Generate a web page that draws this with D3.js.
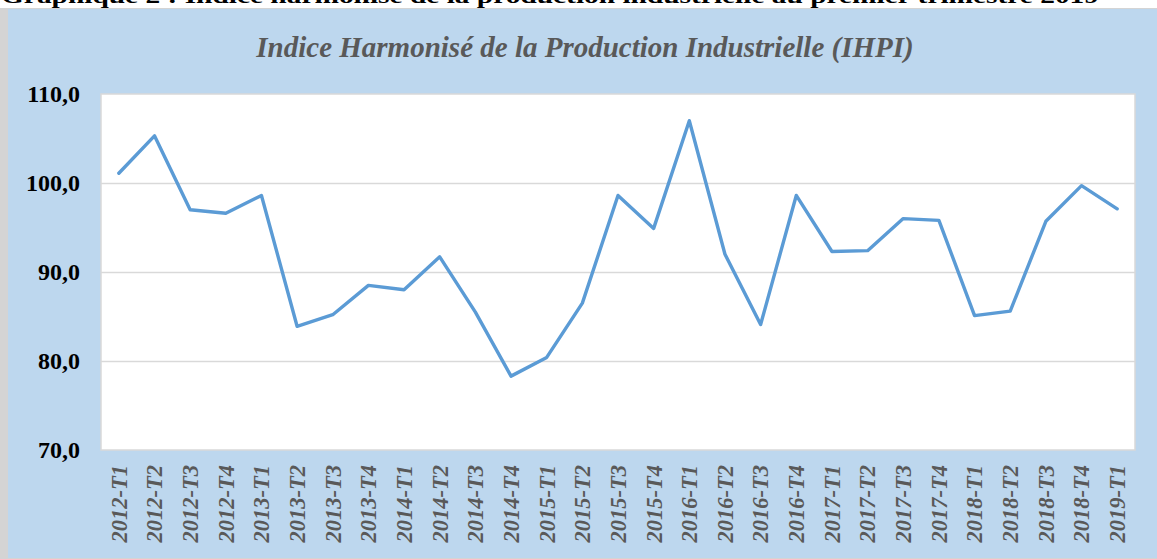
<!DOCTYPE html>
<html>
<head>
<meta charset="utf-8">
<script src="https://cdn.jsdelivr.net/npm/d3@7"></script>
<style>
  body { margin: 0; background: #fff; }
  svg { display: block; }
</style>
</head>
<body>
<div id="chart"></div>
<script>
var width = 1157;
var height = 559;

// quarters on the x axis
var categories = [
  "2012-T1", "2012-T2", "2012-T3", "2012-T4",
  "2013-T1", "2013-T2", "2013-T3", "2013-T4",
  "2014-T1", "2014-T2", "2014-T3", "2014-T4",
  "2015-T1", "2015-T2", "2015-T3", "2015-T4",
  "2016-T1", "2016-T2", "2016-T3", "2016-T4",
  "2017-T1", "2017-T2", "2017-T3", "2017-T4",
  "2018-T1", "2018-T2", "2018-T3", "2018-T4",
  "2019-T1"
];

// IHPI values
var values = [
  101.1, 105.3, 97.0, 96.6,
  98.6, 83.9, 85.2, 88.5,
  88.0, 91.7, 85.5, 78.3,
  80.4, 86.5, 98.6, 94.9,
  107.0, 92.0, 84.1, 98.6,
  92.3, 92.4, 96.0, 95.8,
  85.1, 85.6, 95.7, 99.7,
  97.1
];

var yTicks = [70, 80, 90, 100, 110];

var pageTitle = "Graphique 2 : Indice harmonisé de la production industrielle au premier trimestre 2019";
var chartTitle = "Indice Harmonisé de la Production Industrielle (IHPI)";

var plot = {left: 101, right: 1135, top: 94, bottom: 450};
var serif = '"Liberation Serif", "Times New Roman", serif';

var svg = d3.select('#chart')
  .append('svg')
    .attr('width', width)
    .attr('height', height)
    .style('font-family', serif);

// frame of the chart area
svg.append('rect')
  .attr('x', 0).attr('y', 8)
  .attr('width', width).attr('height', height - 8)
  .attr('fill', '#d4d4d4');
svg.append('rect')
  .attr('x', 8).attr('y', 9)
  .attr('width', width - 8).attr('height', height - 10)
  .attr('fill', '#bdd7ee');

// caption of the document, cut off by the top edge as in the source
svg.append('text')
  .attr('x', 1).attr('y', 3)
  .attr('textLength', 1098)
  .attr('lengthAdjust', 'spacingAndGlyphs')
  .style('font-size', '22px')
  .style('font-weight', 'bold')
  .attr('fill', '#000')
  .text(pageTitle);

svg.append('text')
  .attr('x', 585).attr('y', 57)
  .attr('text-anchor', 'middle')
  .style('font-size', '29px')
  .style('font-weight', 'bold')
  .style('font-style', 'italic')
  .attr('fill', '#595959')
  .text(chartTitle);

// plot area
svg.append('rect')
  .attr('x', plot.left).attr('y', plot.top)
  .attr('width', plot.right - plot.left).attr('height', plot.bottom - plot.top)
  .attr('fill', '#fff')
  .attr('stroke', '#d9d9d9')
  .attr('stroke-width', 1.5);

var x = d3.scaleBand()
  .domain(categories)
  .range([plot.left, plot.right]);

var y = d3.scaleLinear()
  .domain([70, 110])
  .range([plot.bottom, plot.top]);

var fmt = function(d) { return d3.format('.1f')(d).replace('.', ','); };

// gridlines
svg.append('g')
  .attr('transform', 'translate(' + plot.left + ',0)')
  .call(d3.axisLeft(y).tickValues(yTicks.slice(1, -1)).tickSize(-(plot.right - plot.left)).tickFormat(''))
  .call(g => g.select('.domain').remove())
  .selectAll('line')
    .attr('stroke', '#d9d9d9')
    .attr('stroke-width', 1.5);

// y axis labels
svg.append('g')
  .attr('transform', 'translate(' + plot.left + ',0)')
  .call(d3.axisLeft(y).tickValues(yTicks).tickSize(0).tickPadding(21).tickFormat(fmt))
  .call(g => g.select('.domain').remove())
  .selectAll('text')
    .style('font-family', serif)
    .style('font-size', '24px')
    .style('font-weight', 'bold')
    .attr('fill', '#000');

// x axis labels, rotated
svg.append('g')
  .attr('transform', 'translate(0,' + plot.bottom + ')')
  .call(d3.axisBottom(x).tickSize(0))
  .call(g => g.select('.domain').remove())
  .selectAll('text')
    .attr('transform', 'rotate(-90)')
    .attr('x', -15)
    .attr('y', 0)
    .attr('dy', '0.35em')
    .attr('text-anchor', 'end')
    .style('font-family', serif)
    .style('font-size', '22.5px')
    .style('font-weight', 'bold')
    .style('font-style', 'italic')
    .attr('fill', '#595959');

// the series
var line = d3.line()
  .x((d, i) => x(categories[i]) + x.bandwidth() / 2)
  .y(d => y(d));

svg.append('path')
  .datum(values)
  .attr('fill', 'none')
  .attr('stroke', '#5b9bd5')
  .attr('stroke-width', 3.4)
  .attr('stroke-linejoin', 'round')
  .attr('stroke-linecap', 'round')
  .attr('d', line);
</script>
</body>
</html>
